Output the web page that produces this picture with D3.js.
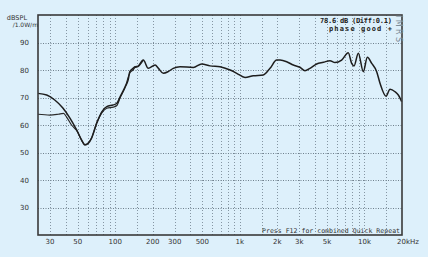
<!DOCTYPE html>
<html>
<head>
<meta charset="utf-8">
<script src="https://cdn.jsdelivr.net/npm/d3@7"></script>
<style>
  html, body { margin: 0; padding: 0; background: #ddf0fb; }
  svg { display: block; }
</style>
</head>
<body>
<svg id="chart" width="428" height="257"></svg>
<script>
// main response curve (frequency in Hz, level in dB SPL)
const freqA = [24, 28.2, 32.7, 38, 43.3, 49, 53.8, 57.2, 64.6, 71, 78, 85.5, 96.5, 103, 109.6, 120, 127,
  131, 139, 144, 152, 168, 184, 209, 222, 243, 266, 292, 331, 423, 494, 576, 693, 835, 944, 1100, 1281, 1540, 1745, 1976,
  2101, 2376, 2686, 3035, 3331, 3653, 4134, 4675, 5285, 5797, 6558, 7409, 7890, 8240, 8923, 9786, 10540, 11430, 12530,
  13320, 14880, 16030, 17580, 18680, 19890];
const dbA = [71.5, 70.9, 69.1, 66.2, 62.5, 58.2, 54.5, 52.7, 55.2, 60.6, 64.8, 66.7, 67.3, 67.9, 70.3, 73.9, 76.4,
  79.4, 80.6, 81.2, 81.4, 83.6, 80.6, 81.8, 80.6, 78.8, 79.4, 80.6, 81.2, 80.9, 82.2, 81.5, 81.2, 80, 78.8, 77.3, 77.9, 78.2, 80.6, 83.6,
  83.6, 83, 81.8, 81, 79.7, 80.6, 82.2, 82.8, 83.4, 82.7, 83.6, 86.3, 82.4, 81.5, 86.1, 79.4, 84.6, 82.4, 79.4,
  75.2, 70.5, 73, 72.1, 70.9, 68.5];

// second curve, only separate at the low end
const freqB = [24, 29.9, 34.9, 38.5, 40.7, 44.6, 49, 57.2, 64.6, 71, 78, 85.5, 96.5, 103, 109.6, 120, 131, 139, 144, 152, 168];
const dbB = [63.9, 63.6, 63.9, 64.2, 62.9, 60, 58, 52.9, 55.4, 60.8, 64.4, 66.1, 66.5, 67.1, 70, 73.6, 79, 80, 80.9, 81.2, 83.6];

const yTicks = [30, 40, 50, 60, 70, 80, 90];
const xTickValues = [30, 50, 100, 200, 300, 500, 1000, 2000, 3000, 5000, 10000, 20000];
const xTickLabels = ["30", "50", "100", "200", "300", "500", "1k", "2k", "3k", "5k", "10k", "20kHz"];
const gridSteps = [1, 1.5, 2, 3, 4, 5, 6, 7, 8, 9];
const decades = [10, 100, 1000, 10000];

const svg = d3.select("#chart");
const plotLeft = 38, plotRight = 402, plotTop = 15, plotBottom = 235;

const x = d3.scaleLog().domain([24, 20000]).range([plotLeft, plotRight]);
const y = d3.scaleLinear().domain([20, 100]).range([plotBottom, plotTop]);

svg.append("rect")
    .attr("width", 428).attr("height", 257)
    .attr("fill", "#ddf0fb");

// grid
const gridFreqs = [];
decades.forEach(d => gridSteps.forEach(s => {
    const f = d * s;
    if (f > 25 && f < 19999) gridFreqs.push(f);
}));

svg.append("g")
    .selectAll("line")
    .data(gridFreqs)
    .enter()
    .append("line")
    .attr("x1", d => Math.round(x(d)) + 0.5)
    .attr("x2", d => Math.round(x(d)) + 0.5)
    .attr("y1", plotTop)
    .attr("y2", plotBottom)
    .attr("stroke", "#8596a3")
    .attr("stroke-width", 1)
    .attr("stroke-dasharray", "1,2");

svg.append("g")
    .selectAll("line")
    .data(yTicks)
    .enter()
    .append("line")
    .attr("x1", plotLeft)
    .attr("x2", plotRight)
    .attr("y1", d => Math.round(y(d)) + 0.5)
    .attr("y2", d => Math.round(y(d)) + 0.5)
    .attr("stroke", "#6f808c")
    .attr("stroke-width", 1)
    .attr("stroke-dasharray", "1,1.5");

// curves
const line = d3.line()
    .x(d => x(d[0]))
    .y(d => y(d[1]))
    .curve(d3.curveMonotoneX);

svg.append("path")
    .datum(d3.zip(freqB, dbB))
    .attr("d", line)
    .attr("fill", "none")
    .attr("stroke", "#2a2a2a")
    .attr("stroke-width", 1.2);

svg.append("path")
    .datum(d3.zip(freqA, dbA))
    .attr("d", line)
    .attr("fill", "none")
    .attr("stroke", "#1e1e1e")
    .attr("stroke-width", 1.5);

// frame
svg.append("rect")
    .attr("x", plotLeft).attr("y", plotTop)
    .attr("width", plotRight - plotLeft).attr("height", plotBottom - plotTop)
    .attr("fill", "none")
    .attr("stroke", "#3a3a3a")
    .attr("stroke-width", 1.6);

const font = "DejaVu Sans";

// y tick labels
svg.append("g")
    .selectAll("text")
    .data(yTicks)
    .enter()
    .append("text")
    .attr("x", 29)
    .attr("y", d => y(d) + 2.5)
    .attr("text-anchor", "end")
    .style("font-family", font)
    .style("font-size", "7px")
    .style("fill", "#333")
    .text(d => d);

// x tick labels
svg.append("g")
    .selectAll("text")
    .data(xTickValues)
    .enter()
    .append("text")
    .attr("x", (d, i) => i === xTickValues.length - 1 ? x(d) + 6 : x(d))
    .attr("y", 244)
    .attr("text-anchor", "middle")
    .style("font-family", font)
    .style("font-size", "7px")
    .style("fill", "#333")
    .text((d, i) => xTickLabels[i]);

// y axis title
svg.append("text")
    .attr("x", 27).attr("y", 20)
    .attr("text-anchor", "end")
    .style("font-family", font)
    .style("font-size", "6.5px")
    .style("fill", "#333")
    .text("dBSPL");
svg.append("text")
    .attr("x", 38).attr("y", 27)
    .attr("text-anchor", "end")
    .style("font-family", font)
    .style("font-size", "6px")
    .style("fill", "#333")
    .text("/1.0W/m");

// info text top right
svg.append("text")
    .attr("x", 392).attr("y", 23)
    .attr("text-anchor", "end")
    .attr("textLength", 72)
    .style("font-family", "DejaVu Sans Mono")
    .style("font-size", "7px")
    .style("font-weight", "bold")
    .style("fill", "#222")
    .text("78.6 dB (Diff:0.1)");
svg.append("text")
    .attr("x", 392).attr("y", 31)
    .attr("text-anchor", "end")
    .attr("textLength", 63)
    .style("font-family", "DejaVu Sans Mono")
    .style("font-size", "7px")
    .style("font-weight", "bold")
    .style("fill", "#222")
    .text("phase good +");

// vertical logo
svg.append("text")
    .attr("transform", "translate(396,15) rotate(90)")
    .attr("textLength", 27)
    .style("font-family", font)
    .style("font-size", "8px")
    .style("fill", "#7d8e9a")
    .text("IMRS");

// bottom note
svg.append("text")
    .attr("x", 400).attr("y", 233)
    .attr("text-anchor", "end")
    .attr("textLength", 138)
    .style("font-family", "DejaVu Sans Mono")
    .style("font-size", "6.5px")
    .style("fill", "#333")
    .text("Press F12 for combined Quick Repeat");
</script>
</body>
</html>
